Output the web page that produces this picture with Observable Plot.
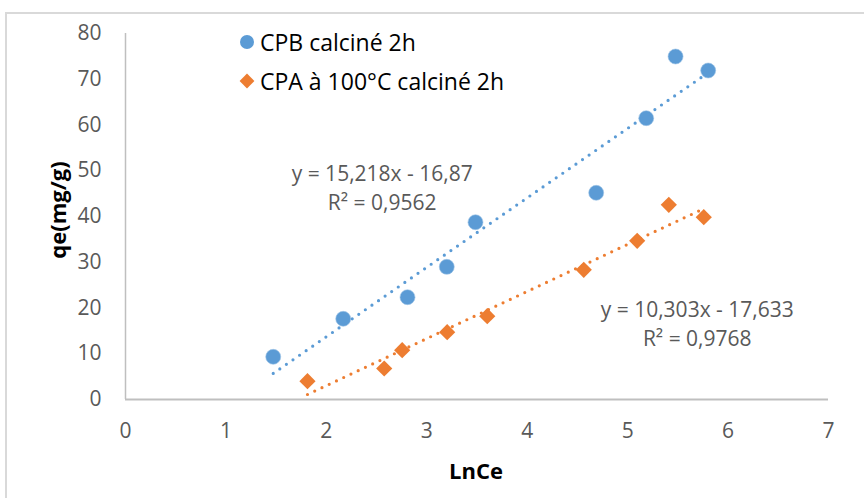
<!DOCTYPE html>
<html>
<head>
<meta charset="utf-8">
<script src="https://cdn.jsdelivr.net/npm/d3@7"></script>
<script src="https://cdn.jsdelivr.net/npm/@observablehq/plot@0.6"></script>
<style>
  html, body { margin: 0; padding: 0; background: #fff; }
  #wrap { position: relative; width: 864px; height: 498px; overflow: hidden; font-family: "Open Sans", sans-serif; }
  #frame { position: absolute; left: 5px; top: 12px; width: 1000px; height: 1000px; border-left: 2px solid #d9d9d9; border-top: 2px solid #d9d9d9; box-sizing: border-box; }
  #chart { position: absolute; left: 0; top: 0; }
  .legend-item { position: absolute; display: flex; align-items: center; font-size: 23px; color: #000; white-space: nowrap; line-height: 1; }
  .legend-item svg { margin-right: 5px; }
  .axis-title { position: absolute; font-weight: bold; font-size: 22px; color: #000; white-space: nowrap; line-height: 1; }
</style>
</head>
<body>
<div id="wrap">
  <div id="frame"></div>
  <div id="chart"></div>
</div>
<script>
// ---- data ----
const seriesNames = ["CPB calciné 2h", "CPA à 100°C calciné 2h"];
const seriesColors = ["#5B9BD5", "#ED7D31"];

const cpbX = [1.471, 2.168, 2.808, 3.199, 3.485, 4.687, 5.185, 5.477, 5.802];
const cpbY = [9.33, 17.64, 22.36, 29.0, 38.75, 45.18, 61.49, 74.97, 71.91];

const cpaX = [1.812, 2.576, 2.755, 3.203, 3.602, 4.563, 5.095, 5.410, 5.758];
const cpaY = [4.0, 6.78, 10.78, 14.71, 18.21, 28.35, 34.69, 42.56, 39.85];

const xTicks = [0, 1, 2, 3, 4, 5, 6, 7];
const yTicks = [0, 10, 20, 30, 40, 50, 60, 70, 80];

const eqLabels = [
  "y = 15,218x - 16,87\nR² = 0,9562",
  "y = 10,303x - 17,633\nR² = 0,9768"
];
const eqLabelX = [2.556, 5.693];
const eqLabelY = [46.56, 16.83];

const xTitle = "LnCe";
const yTitle = "qe(mg/g)";

// ---- build tables ----
const cpb = cpbX.map((x, i) => ({x, y: cpbY[i]}));
const cpa = cpaX.map((x, i) => ({x, y: cpaY[i]}));
const eqs = eqLabels.map((t, i) => ({t, x: eqLabelX[i], y: eqLabelY[i]}));

const trendStyle = {strokeWidth: 3.2, strokeDasharray: "0 8", strokeLinecap: "round", ci: 0};

const chart = Plot.plot({
  width: 864,
  height: 498,
  marginLeft: 125,
  marginRight: 36,
  marginTop: 33,
  marginBottom: 99,
  style: {fontFamily: "'Open Sans', sans-serif", fontSize: "21px", color: "#595959", background: "transparent", overflow: "visible"},
  x: {domain: [0, 7], ticks: xTicks, tickFormat: d3.format("d"), tickSize: 0, tickPadding: 24, label: null},
  y: {domain: [0, 80], ticks: yTicks, tickFormat: d3.format("d"), tickSize: 0, tickPadding: 24, label: null},
  marks: [
    Plot.ruleX([0], {stroke: "#bfbfbf", strokeWidth: 1.5}),
    Plot.ruleY([0], {stroke: "#bfbfbf", strokeWidth: 2}),
    Plot.dot(cpb, {x: "x", y: "y", r: 7.5, fill: seriesColors[0], stroke: "#9cc3e6", strokeWidth: 0.6}),
    Plot.dot(cpa, {x: "x", y: "y", r: 7.3, symbol: "diamond2", fill: seriesColors[1]}),
    Plot.linearRegressionY(cpb, {x: "x", y: "y", stroke: seriesColors[0], ...trendStyle}),
    Plot.linearRegressionY(cpa, {x: "x", y: "y", stroke: seriesColors[1], ...trendStyle}),
    Plot.text(eqs, {x: "x", y: "y", text: "t", fill: "#595959", fontSize: 21, lineHeight: 1.38, textAnchor: "middle", lineAnchor: "middle"})
  ]
});
document.getElementById("chart").appendChild(chart);

// ---- legend (HTML overlay) ----
const wrap = document.getElementById("wrap");
const legendTop = [42, 81];
seriesNames.forEach((name, i) => {
  const item = document.createElement("div");
  item.className = "legend-item";
  item.style.left = "239px";
  item.style.top = (legendTop[i] - 12) + "px";
  item.style.height = "24px";
  const marker = i === 0
    ? `<svg width="16" height="16" viewBox="-8 -8 16 16"><circle r="7" fill="${seriesColors[0]}"/></svg>`
    : `<svg width="16" height="16" viewBox="-8 -8 16 16"><path d="M0,-7.4L7.4,0L0,7.4L-7.4,0Z" fill="${seriesColors[1]}"/></svg>`;
  item.innerHTML = marker + `<span>${name}</span>`;
  wrap.appendChild(item);
});

// ---- axis titles ----
const xt = document.createElement("div");
xt.className = "axis-title";
xt.textContent = xTitle;
xt.style.left = "476px"; xt.style.top = "470px";
xt.style.transform = "translate(-50%, -50%)";
wrap.appendChild(xt);

const yt = document.createElement("div");
yt.className = "axis-title";
yt.textContent = yTitle;
yt.style.left = "57px"; yt.style.top = "210px";
yt.style.transform = "translate(-50%, -50%) rotate(-90deg)";
wrap.appendChild(yt);
</script>
</body>
</html>
